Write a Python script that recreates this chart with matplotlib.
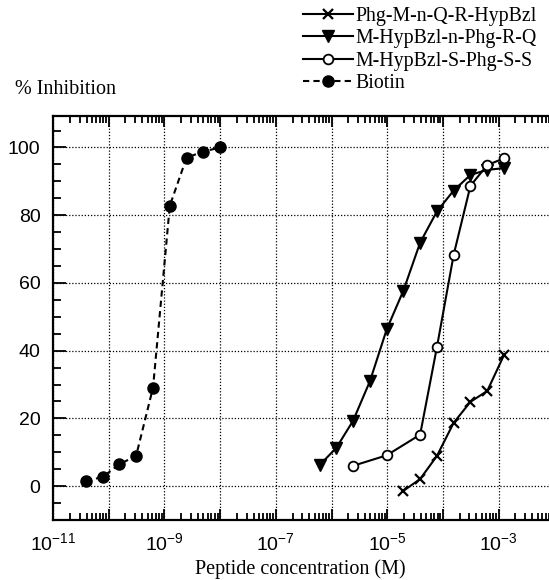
import numpy as np
import matplotlib
matplotlib.use("Agg")
import matplotlib.pyplot as plt
from matplotlib.ticker import FixedLocator, FixedFormatter, MultipleLocator

plt.rcParams['font.family'] = ['Liberation Sans', 'DejaVu Sans']
plt.rcParams['mathtext.fontset'] = 'custom'
plt.rcParams['mathtext.rm'] = 'Liberation Sans'
plt.rcParams['mathtext.it'] = 'Liberation Sans:italic'
plt.rcParams['mathtext.bf'] = 'Liberation Sans:bold'

# peptide concentrations (M) and % inhibition
conc_phg = [1.95e-5, 3.9e-5, 7.8e-5, 1.56e-4, 3.125e-4, 6.25e-4, 1.25e-3]
inh_phg = [-1.4, 2.1, 8.9, 18.7, 24.9, 28.1, 38.7]

conc_mhyp_q = [6.1e-7, 1.22e-6, 2.44e-6, 4.9e-6, 9.8e-6, 1.95e-5, 3.9e-5,
               7.8e-5, 1.56e-4, 3.125e-4, 6.25e-4, 1.25e-3]
inh_mhyp_q = [6.2, 11.3, 19.3, 31.0, 46.3, 57.7, 71.9, 81.1, 87.3, 91.9, 93.4, 93.9]

conc_mhyp_s = [2.44e-6, 9.8e-6, 3.9e-5, 7.8e-5, 1.56e-4, 3.125e-4, 6.25e-4, 1.25e-3]
inh_mhyp_s = [6.0, 9.1, 15.2, 41.0, 68.3, 88.7, 94.8, 96.8]

conc_biotin = [3.9e-11, 7.8e-11, 1.56e-10, 3.1e-10, 6.25e-10, 1.25e-9, 2.5e-9, 5e-9, 1e-8]
inh_biotin = [1.5, 2.7, 6.5, 8.9, 29.1, 82.8, 97.0, 98.8, 100.0]

labels = ["Phg-M-n-Q-R-HypBzl", "M-HypBzl-n-Phg-R-Q", "M-HypBzl-S-Phg-S-S", "Biotin"]
exponents = list(range(-11, -1))

W, H = 549, 580
fig = plt.figure(figsize=(W / 100, H / 100), dpi=100)
ax = fig.add_axes([53 / W, (H - 520) / H, (W - 53) / W, (520 - 116) / H])

lw = 1.5
l1, = ax.plot(conc_phg, inh_phg, color='black', lw=lw, marker='x', ms=7, mew=1.6)
l2, = ax.plot(conc_mhyp_q, inh_mhyp_q, color='black', lw=lw, marker='v', ms=8)
l3, = ax.plot(conc_mhyp_s, inh_mhyp_s, color='black', lw=lw, marker='o', ms=7,
              mfc='white', mew=1.3)
l4, = ax.plot(conc_biotin, inh_biotin, color='black', lw=lw, ls=(0, (3, 2)),
              marker='o', ms=8)

ax.set_xscale('log')
ax.set_xlim(1e-11, 10 ** (-11 + (W - 53) / 55.7))
ax.set_ylim(-10, 109.3)

major = [10.0 ** e for e in exponents]
ax.xaxis.set_major_locator(FixedLocator(major))
ax.xaxis.set_major_formatter(FixedFormatter(
    [r'$\mathregular{10^{%d}}$' % e if e % 2 else '' for e in exponents]))
minor = [m * 10.0 ** e for e in exponents for m in range(2, 10)]
ax.xaxis.set_minor_locator(FixedLocator(minor))

ax.yaxis.set_major_locator(FixedLocator([0, 20, 40, 60, 80, 100]))
ax.yaxis.set_minor_locator(MultipleLocator(5))

ax.tick_params(which='both', direction='in', top=True, right=False, width=1.3,
               labelsize=14)
ax.tick_params(axis='x', which='major', length=8, pad=9)
ax.tick_params(axis='x', which='minor', length=5)
ax.tick_params(axis='y', which='major', length=9, pad=9)
ax.tick_params(axis='y', which='minor', length=6)

for s in ['left', 'bottom', 'top']:
    ax.spines[s].set_linewidth(1.6)
ax.spines['right'].set_visible(False)

ax.grid(True, which='major', color='black', ls=(0, (1, 1.5)), lw=0.9)

serif = ['Liberation Serif', 'DejaVu Serif']
fig.text(300 / W, 1 - 569 / H, "Peptide concentration (M)", family=serif,
         fontsize=14.5, ha='center', va='center')
fig.text(15 / W, 1 - 89 / H, "% Inhibition", family=serif, fontsize=14.5,
         ha='left', va='center')

fig.legend([l1, l2, l3, l4], labels, loc='upper left',
           bbox_to_anchor=(303 / W, 1 - 7 / H), frameon=False,
           prop={'family': serif, 'size': 14.3}, handlelength=2.5,
           handletextpad=0.15, labelspacing=0.17, borderpad=0, borderaxespad=0)

fig.savefig("out.png", dpi=100)
